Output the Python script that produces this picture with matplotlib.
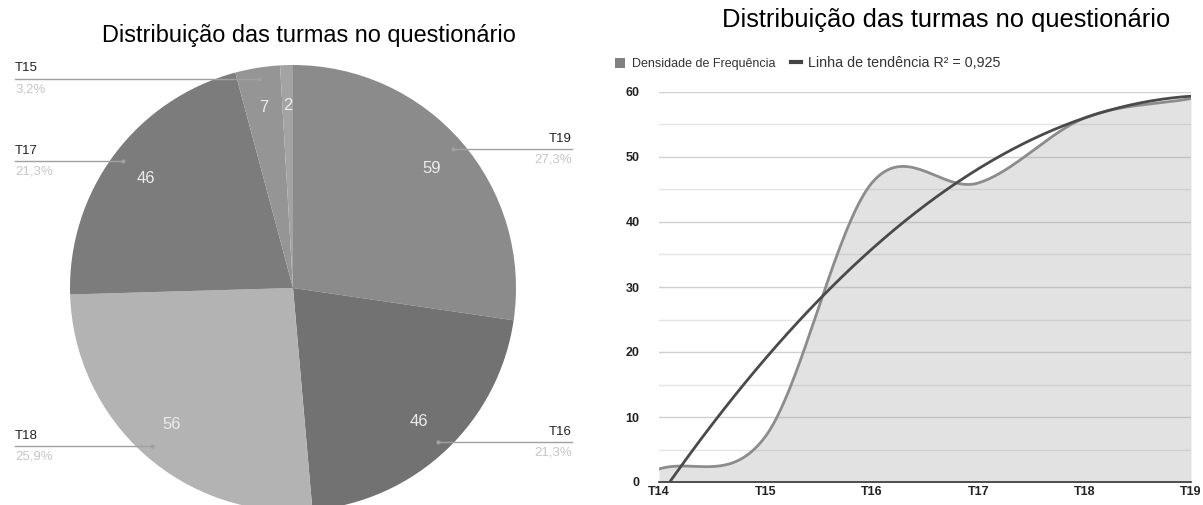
import matplotlib.pyplot as plt
import numpy as np
from matplotlib.patches import Patch
from matplotlib.lines import Line2D

plt.rcParams['font.family'] = ['Liberation Sans', 'DejaVu Sans']

# Respostas por turma
turmas = ['T14', 'T15', 'T16', 'T17', 'T18', 'T19']
alunos = [2, 7, 46, 46, 56, 59]

# Ordem das fatias na pizza (sentido horario a partir do topo)
ordem_pizza = ['T19', 'T16', 'T18', 'T17', 'T15', 'T14']
cores_pizza = ['#8b8b8b', '#727272', '#b3b3b3', '#7c7c7c', '#959595', '#a3a3a3']

titulo = 'Distribuição das turmas no questionário'
r2_texto = '0,925'


def suave(y, n=40):
    # curva suavizada (hermite cubica) passando pelos pontos
    y = np.asarray(y, float)
    m = np.empty_like(y)
    m[1:-1] = (y[2:] - y[:-2]) / 2
    m[0] = y[1] - y[0]
    m[-1] = y[-1] - y[-2]
    xs, ys = [], []
    for i in range(len(y) - 1):
        t = np.linspace(0, 1, n, endpoint=(i == len(y) - 2))
        h00 = 2 * t**3 - 3 * t**2 + 1
        h10 = t**3 - 2 * t**2 + t
        h01 = -2 * t**3 + 3 * t**2
        h11 = t**3 - t**2
        xs.append(i + t)
        ys.append(h00 * y[i] + h10 * m[i] + h01 * y[i + 1] + h11 * m[i + 1])
    return np.concatenate(xs), np.concatenate(ys)


fig = plt.figure(figsize=(12.03, 5.05), dpi=100)

# ---- pizza ----
ax1 = fig.add_axes([0, 0, 600 / 1203, 1])
valores = [alunos[turmas.index(t)] for t in ordem_pizza]
total = sum(valores)
wedges, _, autotexts = ax1.pie(
    valores, colors=cores_pizza, startangle=90, counterclock=False,
    autopct=lambda p: f'{p * total / 100:.0f}', pctdistance=0.82,
    textprops=dict(color='#ececec', fontsize=12),
    wedgeprops=dict(linewidth=0))
ax1.set_aspect('auto')
R = 223
ax1.set_xlim(-293 / R, 307 / R)
ax1.set_ylim(-217 / R, 288 / R)

x_esq = -278 / R
x_dir = 279 / R
for w, nome, v in zip(wedges, ordem_pizza, valores):
    pct = 100 * v / total
    if pct < 1:
        continue
    ang = np.deg2rad((w.theta1 + w.theta2) / 2)
    px, py = 0.95 * np.cos(ang), 0.95 * np.sin(ang)
    xf = x_esq if px < 0 else x_dir
    ha = 'left' if px < 0 else 'right'
    ax1.plot([px, xf], [py, py], color='#a0a0a0', lw=1, clip_on=False, zorder=3)
    ax1.plot(px, py, 'o', ms=2, color='#a0a0a0', clip_on=False, zorder=3)
    ax1.text(xf, py + 0.02, nome, ha=ha, va='bottom', fontsize=9.5, color='#222222')
    ax1.text(xf, py - 0.02, f'{pct:.1f}%'.replace('.', ','), ha=ha, va='top',
             fontsize=9.5, color='#c6c6c6')

fig.text(309 / 1203, 1 - 35 / 505, titulo, ha='center', va='center', fontsize=16.9)

# ---- area com linha de tendencia ----
ax2 = fig.add_axes([659 / 1203, 23 / 505, 532 / 1203, 390 / 505])
x = np.arange(len(turmas))
xs, ys = suave(alunos)
ax2.fill_between(xs, 0, ys, color='#a0a0a0', alpha=0.3, lw=0, zorder=1)
ax2.plot(xs, ys, color='#8c8c8c', lw=2, zorder=2)

coef = np.polyfit(x, alunos, 2)
xt = np.linspace(0, len(turmas) - 1, 200)
ax2.plot(xt, np.polyval(coef, xt), color='#4a4a4a', lw=2, zorder=3)

ax2.set_xlim(0, len(turmas) - 1)
ax2.set_ylim(0, 60)
ax2.set_xticks(x)
ax2.set_xticklabels(turmas)
ax2.set_yticks(range(0, 61, 10))
ax2.set_yticks(range(5, 60, 10), minor=True)
ax2.grid(axis='y', which='major', color='#d0d0d0', lw=1)
ax2.grid(axis='y', which='minor', color='#e4e4e4', lw=1)
ax2.set_axisbelow(True)
for s in ['top', 'right', 'left']:
    ax2.spines[s].set_visible(False)
ax2.spines['bottom'].set_color('#333333')
ax2.spines['bottom'].set_linewidth(1.2)
ax2.tick_params(axis='y', which='both', length=0, pad=14, labelsize=9, labelcolor='#222222')
ax2.tick_params(axis='x', length=0, pad=3, labelsize=9, labelcolor='#222222')
for lab in ax2.get_xticklabels() + ax2.get_yticklabels():
    lab.set_fontweight('bold')

fig.text(946 / 1203, 1 - 20 / 505, titulo, ha='center', va='center', fontsize=18.4)
leg = fig.legend(handles=[Patch(facecolor='#808080', edgecolor='none'),
                          Line2D([], [], color='#444444', lw=3)],
                 labels=['Densidade de Frequência', 'Linha de tendência R² = ' + r2_texto],
                 loc='center left', bbox_to_anchor=(604 / 1203, 1 - 63 / 505), ncol=2,
                 frameon=False, fontsize=9, handlelength=0.8, handleheight=0.9,
                 columnspacing=1.3, handletextpad=0.5, labelcolor='#333333')
leg.get_texts()[1].set_fontsize(10.3)

fig.savefig('out.png', dpi=100)
